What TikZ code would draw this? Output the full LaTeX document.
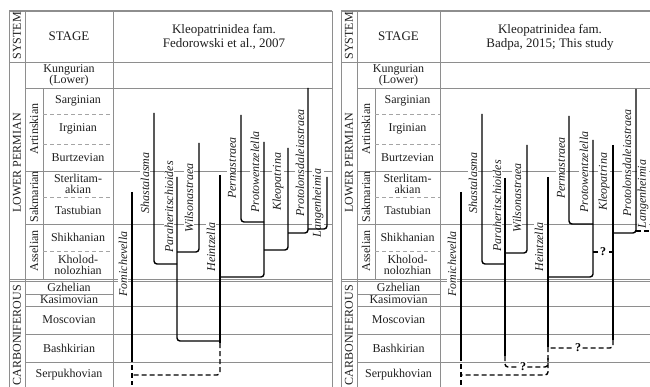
\documentclass[tikz,border=0pt]{standalone}
\usepackage{fontspec}
\setmainfont{Liberation Serif}
\usepackage{tikz}
\definecolor{gridgray}{HTML}{8E8E8E}
\definecolor{inkgray}{HTML}{1E1E1E}

\tikzstyle{frame} = [
    draw=gridgray,
    line width=0.8pt
]
\tikzstyle{subrule} = [
    draw=gridgray!80,
    line width=0.6pt,
    dash pattern=on 4pt off 3pt
]
\tikzstyle{stagetext} = [
    text=inkgray,
    font=\fontsize{12}{11}\selectfont,
    align=center,
    inner sep=0pt
]
\tikzstyle{systext} = [stagetext, rotate=90]
\tikzstyle{headtext} = [
    text=inkgray,
    font=\fontsize{13}{14}\selectfont,
    align=center
]
\tikzstyle{taxon} = [
    text=inkgray,
    font=\fontsize{12}{12}\selectfont\itshape,
    rotate=90,
    fill=white,
    inner sep=1pt
]
\tikzstyle{branch} = [line width=1.4pt, rounded corners=3pt]
\tikzstyle{dashedbranch} = [branch, dash pattern=on 5pt off 3pt]
\tikzstyle{qmark} = [
    font=\fontsize{12}{12}\selectfont\bfseries,
    fill=white,
    inner sep=0.6pt
]

% #1 left edge, #2 stage column edge, #3 right edge
\newcommand{\stagetable}[3]{%
  \draw [frame, line width=1.3pt] (#1,11) -- (#3,11);
  \draw [frame] (#1,11) -- (#1,387);
  \draw [frame] (#1+16,11) -- (#1+16,387);
  \draw [frame] (#1+34,88) -- (#1+34,279);
  \draw [frame] (#2,11) -- (#2,387);
  \draw [frame] (#3,11) -- (#3,387);
  \draw [frame] (#1,62) -- (#3,62);
  \draw [frame] (#1+16,88) -- (#3,88);
  \draw [subrule] (#1+34,114) -- (#2,114);
  \draw [subrule] (#1+34,144) -- (#2,144);
  \draw [frame] (#1+16,171) -- (#3,171);
  \draw [subrule] (#1+34,197) -- (#2,197);
  \draw [frame] (#1+16,224) -- (#3,224);
  \draw [subrule] (#1+34,251) -- (#2,251);
  \draw [frame] (#1,279) -- (#3,279);
  \draw [frame] (#1,281.5) -- (#3,281.5);
  \draw [frame] (#1+16,294) -- (#2,294);
  \draw [frame] (#1+16,306) -- (#3,306);
  \draw [frame] (#1+16,334) -- (#3,334);
  \draw [frame] (#1+16,362) -- (#3,362);
  \node (system) [systext] at (#1+8,36) {SYSTEM};
  \node (stage) [headtext] at ({(#1+16+#2)/2},36) {STAGE};
  \node (permian) [systext] at (#1+8,163) {LOWER PERMIAN};
  \node (carbon) [systext] at (#1+8,335) {CARBONIFEROUS};
  \node (kungurian) [stagetext] at ({(#1+16+#2)/2},75) {Kungurian\\(Lower)};
  \node (artinskian) [systext] at (#1+25,129) {Artinskian};
  \node (sakmarian) [systext] at (#1+25,197) {Sakmarian};
  \node (asselian) [systext] at (#1+25,251) {Asselian};
  \node (sarginian) [stagetext] at ({(#1+34+#2)/2},101) {Sarginian};
  \node (irginian) [stagetext] at ({(#1+34+#2)/2},129) {Irginian};
  \node (burtzevian) [stagetext] at ({(#1+34+#2)/2},157.5) {Burtzevian};
  \node (sterlitam) [stagetext] at ({(#1+34+#2)/2},184) {Sterlitam-\\akian};
  \node (tastubian) [stagetext] at ({(#1+34+#2)/2},210.5) {Tastubian};
  \node (shikhanian) [stagetext] at ({(#1+34+#2)/2},237.5) {Shikhanian};
  \node (kholod) [stagetext] at ({(#1+34+#2)/2},265) {Kholod-\\nolozhian};
  \node (gzhelian) [stagetext] at ({(#1+16+#2)/2},287.5) {Gzhelian};
  \node (kasimovian) [stagetext] at ({(#1+16+#2)/2},300) {Kasimovian};
  \node (moscovian) [stagetext] at ({(#1+16+#2)/2},320) {Moscovian};
  \node (bashkirian) [stagetext] at ({(#1+16+#2)/2},348) {Bashkirian};
  \node (serpukhovian) [stagetext] at ({(#1+16+#2)/2},374.5) {Serpukhovian};
}

\begin{document}
\begin{tikzpicture}[x=1pt, y=-1pt]

\path [use as bounding box] (0,0) rectangle (650,387);
\clip (0,0) rectangle (650,387);

\begin{scope}[name prefix=L-]
\stagetable{9}{113}{332}
\end{scope}
\begin{scope}[name prefix=R-]
\stagetable{341}{440}{662}
\end{scope}

\node (L-head) [headtext] at (224,37) {Kleopatrinidea fam.\\Fedorowski et al., 2007};
\node (R-head) [headtext] at (550,37) {Kleopatrinidea fam.\\Badpa, 2015; This study};

\coordinate (L-fomi) at (132,192);
\coordinate (L-shas) at (154,113);
\coordinate (L-para) at (177,177);
\coordinate (L-wils) at (199,143);
\coordinate (L-hein) at (220,175);
\coordinate (L-perm) at (241,115);
\coordinate (L-prow) at (264,142);
\coordinate (L-kleo) at (288,148);
\coordinate (L-prol) at (308,88);
\coordinate (L-lang) at (327,177);

\node (L-fomi-t) [taxon] at (123,264) {Fomichevella};
\node (L-shas-t) [taxon] at (145,183) {Shastalasma};
\node (L-para-t) [taxon] at (169,207) {Paraheritschioides};
\node (L-wils-t) [taxon] at (189,198) {Wilsonastraea};
\node (L-hein-t) [taxon] at (211,247) {Heintzella};
\node (L-perm-t) [taxon] at (232,168) {Permastraea};
\node (L-prow-t) [taxon] at (255,172) {Protowentzelella};
\node (L-kleo-t) [taxon] at (278,182) {Kleopatrina};
\node (L-prol-t) [taxon] at (300,163) {Protolonsdaleiastraea};
\node (L-lang-t) [taxon] at (318,203) {Langenheimia};

\draw [branch] (L-fomi) -- (L-fomi |- 0,357);
\draw [dashedbranch] (L-fomi |- 0,357) -- (L-fomi |- 0,385);
\draw [branch] (L-shas) |- (L-para |- 0,264);
\draw [branch] (L-wils) |- (L-para |- 0,252);
\draw [branch] (L-para) |- (L-hein |- 0,341);
\draw [branch] (L-hein) -- (L-hein |- 0,343);
\draw [dashedbranch] (L-hein |- 0,343) |- (L-fomi |- 0,375);
\draw [branch] (L-perm) |- (L-prow |- 0,222);
\draw [branch] (L-prow) |- (L-hein |- 0,277);
\draw [branch] (L-kleo) |- (L-prow |- 0,250);
\draw [branch] (L-prol) |- (L-kleo |- 0,233);
\draw [branch] (L-lang) |- (L-prol |- 0,229);

\coordinate (R-fomi) at (461,192);
\coordinate (R-shas) at (482,114);
\coordinate (R-para) at (505,178);
\coordinate (R-wils) at (527,145);
\coordinate (R-hein) at (548,177);
\coordinate (R-perm) at (569,116);
\coordinate (R-prow) at (593,140);
\coordinate (R-kleo) at (613,145);
\coordinate (R-prol) at (636,89);
\coordinate (R-lang) at (657,177);

\node (R-fomi-t) [taxon] at (452,264) {Fomichevella};
\node (R-shas-t) [taxon] at (473,183) {Shastalasma};
\node (R-para-t) [taxon] at (497,206) {Paraheritschioides};
\node (R-wils-t) [taxon] at (517,198) {Wilsonastraea};
\node (R-hein-t) [taxon] at (539,247) {Heintzella};
\node (R-perm-t) [taxon] at (561,168) {Permastraea};
\node (R-prow-t) [taxon] at (584,172) {Protowentzelella};
\node (R-kleo-t) [taxon] at (604,182) {Kleopatrina};
\node (R-prol-t) [taxon] at (627,163) {Protolonsdaleiastraea};
\node (R-lang-t) [taxon, inner sep=0.5pt] at (643,194) {Langenheimia};

\draw [branch] (R-fomi) -- (R-fomi |- 0,356);
\draw [dashedbranch] (R-fomi |- 0,356) -- (R-fomi |- 0,385);
\draw [branch] (R-shas) |- (R-para |- 0,264);
\draw [branch] (R-wils) |- (R-para |- 0,253);
\draw [branch] (R-para) -- (R-para |- 0,356);
\draw [dashedbranch] (R-para |- 0,356) |- (R-hein |- 0,367) -- (R-hein |- 0,358);
\draw [branch] (R-hein) -- (R-hein |- 0,347);
\draw [dashedbranch] (R-hein |- 0,347) |- (R-fomi |- 0,375);
\draw [branch] (R-perm) |- (R-prow |- 0,224);
\draw [branch] (R-prow) |- (R-hein |- 0,277);
\draw [dashedbranch] (R-prow |- 0,252) -- (R-kleo |- 0,252);
\draw [branch] (R-kleo) -- (R-kleo |- 0,340);
\draw [dashedbranch] (R-kleo |- 0,340) |- (R-hein |- 0,348);
\draw [branch] (R-prol) |- (R-kleo |- 0,233);
\draw [branch] (R-lang) -- (R-lang |- 0,231);
\draw [dashedbranch] (R-prol |- 0,231) -- (R-lang |- 0,231);

\node (R-q1) [qmark] at (603,252) {?};
\node (R-q2) [qmark] at (578,348) {?};
\node (R-q3) [qmark] at (523,367) {?};

\end{tikzpicture}
\end{document}
